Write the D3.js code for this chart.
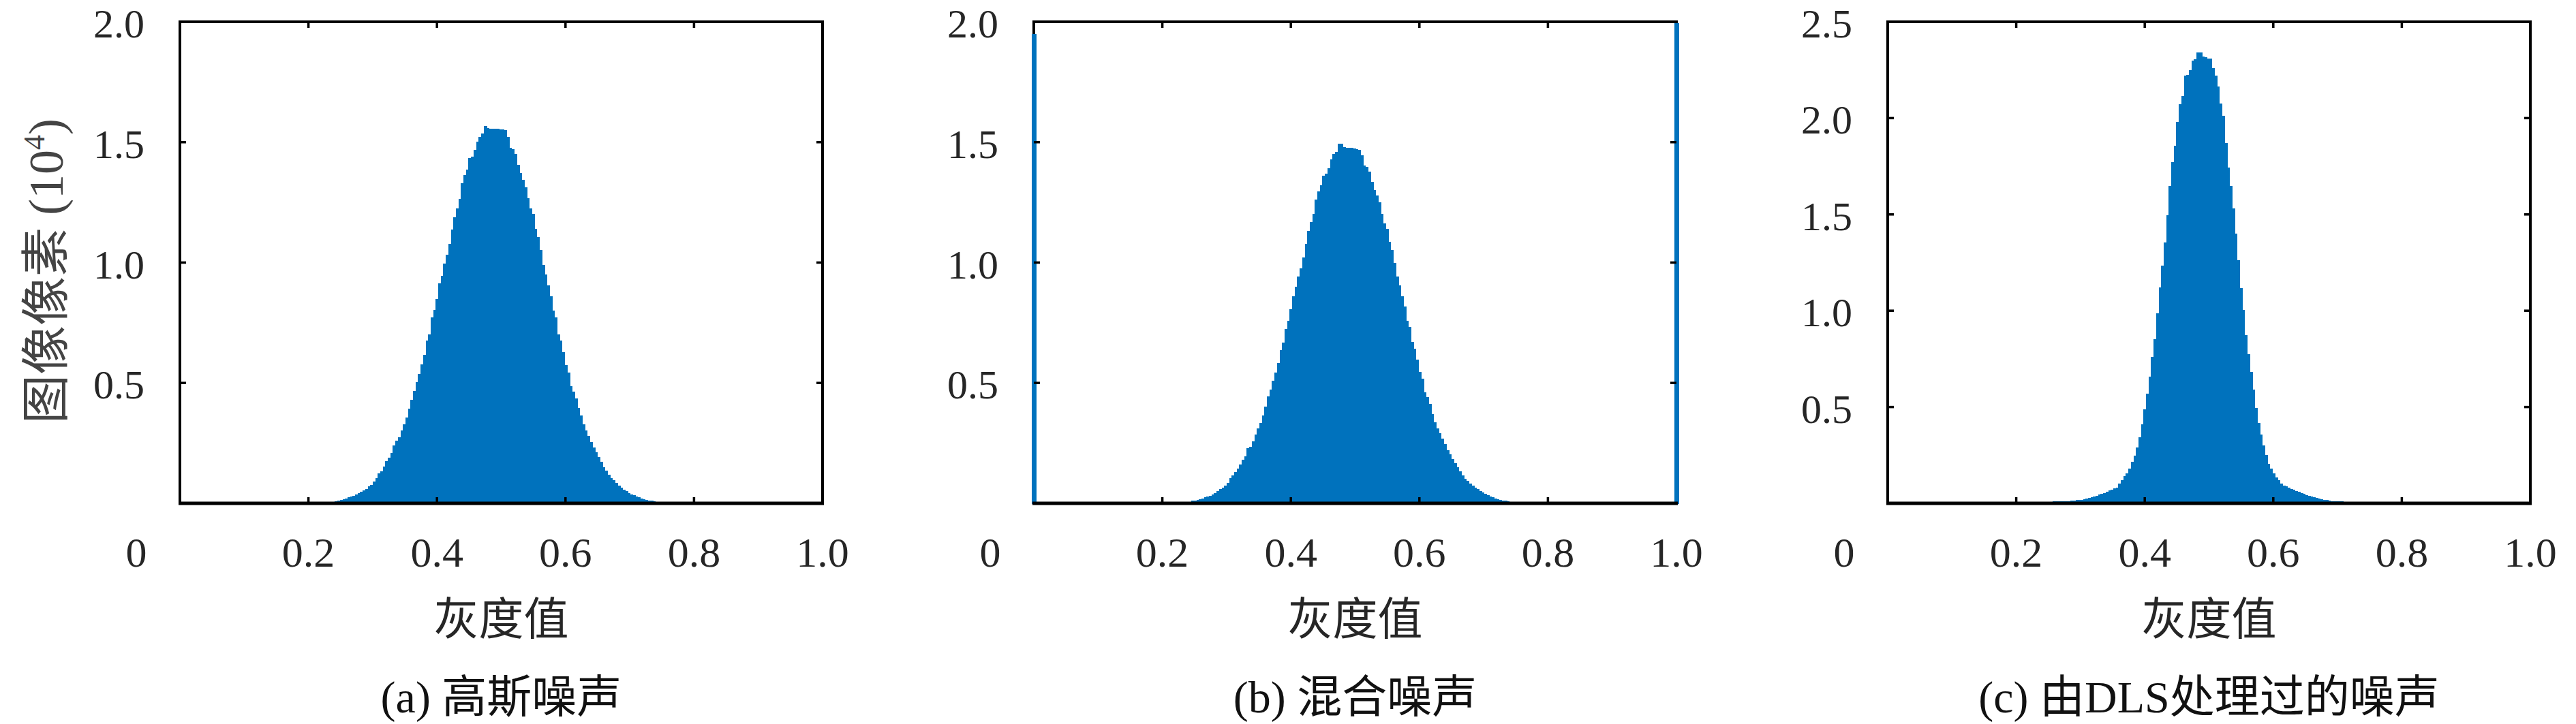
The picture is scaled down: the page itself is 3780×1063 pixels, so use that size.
<!DOCTYPE html>
<html><head><meta charset="utf-8">
<script src="https://cdn.jsdelivr.net/npm/d3@7/dist/d3.min.js"></script>
<style>body{margin:0;background:#fff}svg{display:block}</style>
</head><body>
<script>
// ---------------- data (units: 10^4 pixels) ----------------
const NBINS = 256;                       // imhist bins, centres k/255
const xTickValues = [0.2, 0.4, 0.6, 0.8, 1.0];
const xTickLabels = ["0.2", "0.4", "0.6", "0.8", "1.0"];
const originLabel = "0";
const captions = ["(a) 高斯噪声", "(b) 混合噪声", "(c) 由DLS处理过的噪声"];
const xAxisTitle = "灰度值";
const yAxisTitle = "图像像素 (10";
const yAxisTitleSup = "4";
const yMaxes = [2.0, 2.0, 2.5];
const yTicks12 = [0.5, 1.0, 1.5, 2.0];
const yTicks3 = [0.5, 1.0, 1.5, 2.0, 2.5];

// (a) Gaussian noise, bins 52..198
const gaussStart = 52;
const gaussCounts = [
0.000,0.000,0.001,0.001,0.002,0.002,0.003,0.004,0.005,0.007,
0.009,0.011,0.014,0.017,0.020,0.025,0.029,0.032,0.038,0.043,
0.049,0.054,0.060,0.070,0.077,0.090,0.105,0.125,0.134,0.154,
0.176,0.189,0.209,0.241,0.260,0.273,0.302,0.328,0.357,0.392,
0.431,0.467,0.503,0.538,0.577,0.616,0.676,0.702,0.771,0.803,
0.848,0.913,0.945,0.997,1.033,1.077,1.136,1.188,1.226,1.265,
1.330,1.363,1.387,1.433,1.441,1.468,1.503,1.523,1.536,1.567,
1.558,1.557,1.556,1.555,1.555,1.553,1.552,1.551,1.523,1.477,
1.472,1.451,1.407,1.371,1.345,1.313,1.268,1.226,1.203,1.139,
1.106,1.052,0.990,0.951,0.906,0.861,0.800,0.771,0.702,0.676,
0.628,0.573,0.544,0.486,0.464,0.435,0.396,0.364,0.329,0.302,
0.280,0.254,0.232,0.211,0.192,0.173,0.151,0.136,0.118,0.105,
0.095,0.085,0.074,0.064,0.056,0.050,0.042,0.038,0.033,0.029,
0.025,0.020,0.017,0.015,0.012,0.010,0.008,0.007,0.006,0.005,
0.004,0.003,0.002,0.002,0.001,0.001,0.000];

// (b) mixed noise, bins 52..198 plus salt & pepper spikes at bins 0 and 255
const mixedStart = 52;
const mixedCounts = [
0.000,0.000,0.001,0.001,0.001,0.002,0.002,0.003,0.005,0.006,
0.007,0.010,0.011,0.015,0.018,0.021,0.025,0.028,0.032,0.038,
0.043,0.050,0.058,0.064,0.074,0.086,0.105,0.116,0.131,0.144,
0.160,0.180,0.196,0.228,0.235,0.258,0.286,0.312,0.335,0.366,
0.402,0.444,0.473,0.510,0.544,0.583,0.637,0.667,0.725,0.758,
0.805,0.861,0.900,0.942,0.977,1.020,1.077,1.131,1.167,1.201,
1.261,1.296,1.320,1.362,1.369,1.391,1.428,1.451,1.459,1.493,
1.493,1.480,1.478,1.477,1.476,1.475,1.472,1.469,1.446,1.404,
1.397,1.378,1.335,1.300,1.278,1.249,1.203,1.164,1.141,1.085,
1.051,0.999,0.943,0.906,0.861,0.818,0.758,0.732,0.671,0.641,
0.596,0.547,0.519,0.460,0.441,0.413,0.370,0.338,0.312,0.292,
0.269,0.247,0.222,0.205,0.185,0.167,0.149,0.134,0.116,0.103,
0.094,0.082,0.073,0.065,0.060,0.052,0.046,0.041,0.034,0.029,
0.025,0.021,0.018,0.015,0.012,0.011,0.009,0.007,0.006,0.005,
0.004,0.003,0.002,0.002,0.001,0.001,0.000];
const mixedSpikeBins = [0, 255];
const mixedSpikeCounts = [1.945, 1.99];

// (c) noise after DLS, bins 50..200
const dlsStart = 50;
const dlsCounts = [
0.001,0.002,0.002,0.002,0.002,0.004,0.005,0.005,0.005,0.005,
0.006,0.006,0.007,0.007,0.008,0.008,0.009,0.009,0.010,0.010,
0.010,0.011,0.012,0.013,0.014,0.016,0.018,0.019,0.022,0.024,
0.027,0.032,0.035,0.038,0.045,0.049,0.054,0.059,0.067,0.072,
0.077,0.083,0.103,0.119,0.140,0.156,0.180,0.216,0.248,0.290,
0.342,0.410,0.487,0.568,0.657,0.762,0.851,0.985,1.122,1.234,
1.353,1.494,1.647,1.772,1.856,1.979,2.071,2.114,2.219,2.224,
2.248,2.297,2.305,2.341,2.341,2.318,2.317,2.310,2.308,2.261,
2.219,2.163,2.074,2.011,1.869,1.744,1.647,1.531,1.402,1.263,
1.118,1.004,0.872,0.775,0.684,0.591,0.494,0.419,0.358,0.302,
0.250,0.206,0.180,0.156,0.135,0.119,0.103,0.093,0.087,0.080,
0.075,0.070,0.064,0.059,0.054,0.048,0.041,0.038,0.035,0.032,
0.028,0.025,0.022,0.019,0.016,0.014,0.012,0.011,0.011,0.009,
0.009,0.008,0.008,0.007,0.007,0.007,0.006,0.006,0.006,0.005,
0.005,0.005,0.004,0.004,0.004,0.003,0.003,0.002,0.002,0.002,
0.001];

// ---------------- build full histograms ----------------
function fullHist(start, counts, spikeBins = [], spikeCounts = []) {
  const h = new Array(NBINS).fill(0);
  counts.forEach((c, i) => { h[start + i] = c; });
  spikeBins.forEach((b, i) => { h[b] = spikeCounts[i]; });
  return h.map((c, k) => ({ k, c }));
}
const hists = [
  fullHist(gaussStart, gaussCounts),
  fullHist(mixedStart, mixedCounts, mixedSpikeBins, mixedSpikeCounts),
  fullHist(dlsStart, dlsCounts)
];

// ---------------- drawing ----------------
const W = 3780, H = 1063;
const panelLefts = [264, 1517, 2770];
const plotW = 943, plotTop = 32, plotBottom = 739;
const BLUE = "#0072BD", TXT = "#262626";
const SERIF = "'Liberation Serif','DejaVu Serif',serif";
const MIX = "'Liberation Serif','Noto Sans CJK SC',serif";
const CJK = "'Noto Sans CJK SC','Liberation Serif',sans-serif";

const svg = d3.select("body").append("svg").attr("width", W).attr("height", H)
  .style("background", "#fff");

hists.forEach((hist, p) => {
  const L = panelLefts[p];
  const x = d3.scaleLinear().domain([0, 1]).range([L, L + plotW]);
  const y = d3.scaleLinear().domain([0, yMaxes[p]]).range([plotBottom, plotTop]);
  const yt = p === 2 ? yTicks3 : yTicks12;
  const g = svg.append("g");
  const binW = x(1 / 255) - x(0);

  // frame
  g.append("rect").attr("x", L).attr("y", plotTop).attr("width", plotW)
    .attr("height", plotBottom - plotTop).attr("fill", "none")
    .attr("stroke", "#000").attr("stroke-width", 4);

  // bars
  g.append("g").attr("shape-rendering", "crispEdges")
    .selectAll("rect").data(hist.filter(d => d.c > 0)).join("rect")
    .attr("x", d => x(d.k / 255) - binW / 2)
    .attr("width", binW + 1.2)
    .attr("y", d => y(d.c))
    .attr("height", d => y(0) - y(d.c))
    .attr("fill", BLUE)
    .attr("stroke", d => (d.k === 0 || d.k === 255) ? BLUE : "none")
    .attr("stroke-width", 2.4);

  // bottom axis line over bars
  g.append("line").attr("x1", L - 2).attr("x2", L + plotW + 2)
    .attr("y1", plotBottom).attr("y2", plotBottom)
    .attr("stroke", "#000").attr("stroke-width", 5);

  // inward ticks (mirrored on all sides)
  const tk = 9;
  const xtIn = xTickValues.filter(v => v > 0 && v < 1);
  xtIn.forEach(v => {
    g.append("line").attr("x1", x(v)).attr("x2", x(v))
      .attr("y1", plotBottom).attr("y2", plotBottom - tk)
      .attr("stroke", "#000").attr("stroke-width", 3.5);
    g.append("line").attr("x1", x(v)).attr("x2", x(v))
      .attr("y1", plotTop).attr("y2", plotTop + tk)
      .attr("stroke", "#000").attr("stroke-width", 3.5);
  });
  yt.filter(v => v < yMaxes[p]).forEach(v => {
    g.append("line").attr("x1", L).attr("x2", L + tk)
      .attr("y1", y(v)).attr("y2", y(v))
      .attr("stroke", "#000").attr("stroke-width", 3.5);
    g.append("line").attr("x1", L + plotW).attr("x2", L + plotW - tk)
      .attr("y1", y(v)).attr("y2", y(v))
      .attr("stroke", "#000").attr("stroke-width", 3.5);
  });

  // y tick labels
  g.append("g").selectAll("text").data(yt).join("text")
    .attr("x", L - 52).attr("y", d => y(d) + 23)
    .attr("text-anchor", "end").attr("font-family", SERIF)
    .attr("font-size", 60).attr("fill", TXT).text(d => d.toFixed(1));

  // x tick labels
  g.append("g").selectAll("text").data(xTickValues).join("text")
    .attr("x", d => x(d)).attr("y", 832)
    .attr("text-anchor", "middle").attr("font-family", SERIF)
    .attr("font-size", 62).attr("fill", TXT).text((d, i) => xTickLabels[i]);
  g.append("text").attr("x", x(0) - 64).attr("y", 832)
    .attr("text-anchor", "middle").attr("font-family", SERIF)
    .attr("font-size", 62).attr("fill", TXT).text(originLabel);

  // x axis title
  g.append("text").attr("x", x(0.5)).attr("y", 932)
    .attr("text-anchor", "middle").attr("font-family", CJK)
    .attr("font-size", 66).attr("fill", TXT).text(xAxisTitle);

  // caption
  g.append("text").attr("x", x(0.5)).attr("y", 1046)
    .attr("text-anchor", "middle").attr("font-family", MIX)
    .attr("font-size", 66).attr("fill", "#111").text(captions[p]);

  // y axis title (first panel only)
  if (p === 0) {
    const t = g.append("text")
      .attr("transform", `translate(92,398) rotate(-90)`)
      .attr("text-anchor", "middle").attr("font-family", MIX)
      .attr("font-size", 72).attr("fill", "#444");
    t.append("tspan").text(yAxisTitle);
    t.append("tspan").attr("dy", -27).attr("font-size", 44).text(yAxisTitleSup);
    t.append("tspan").attr("dy", 27).text(")");
  }
});
</script>
</body></html>
